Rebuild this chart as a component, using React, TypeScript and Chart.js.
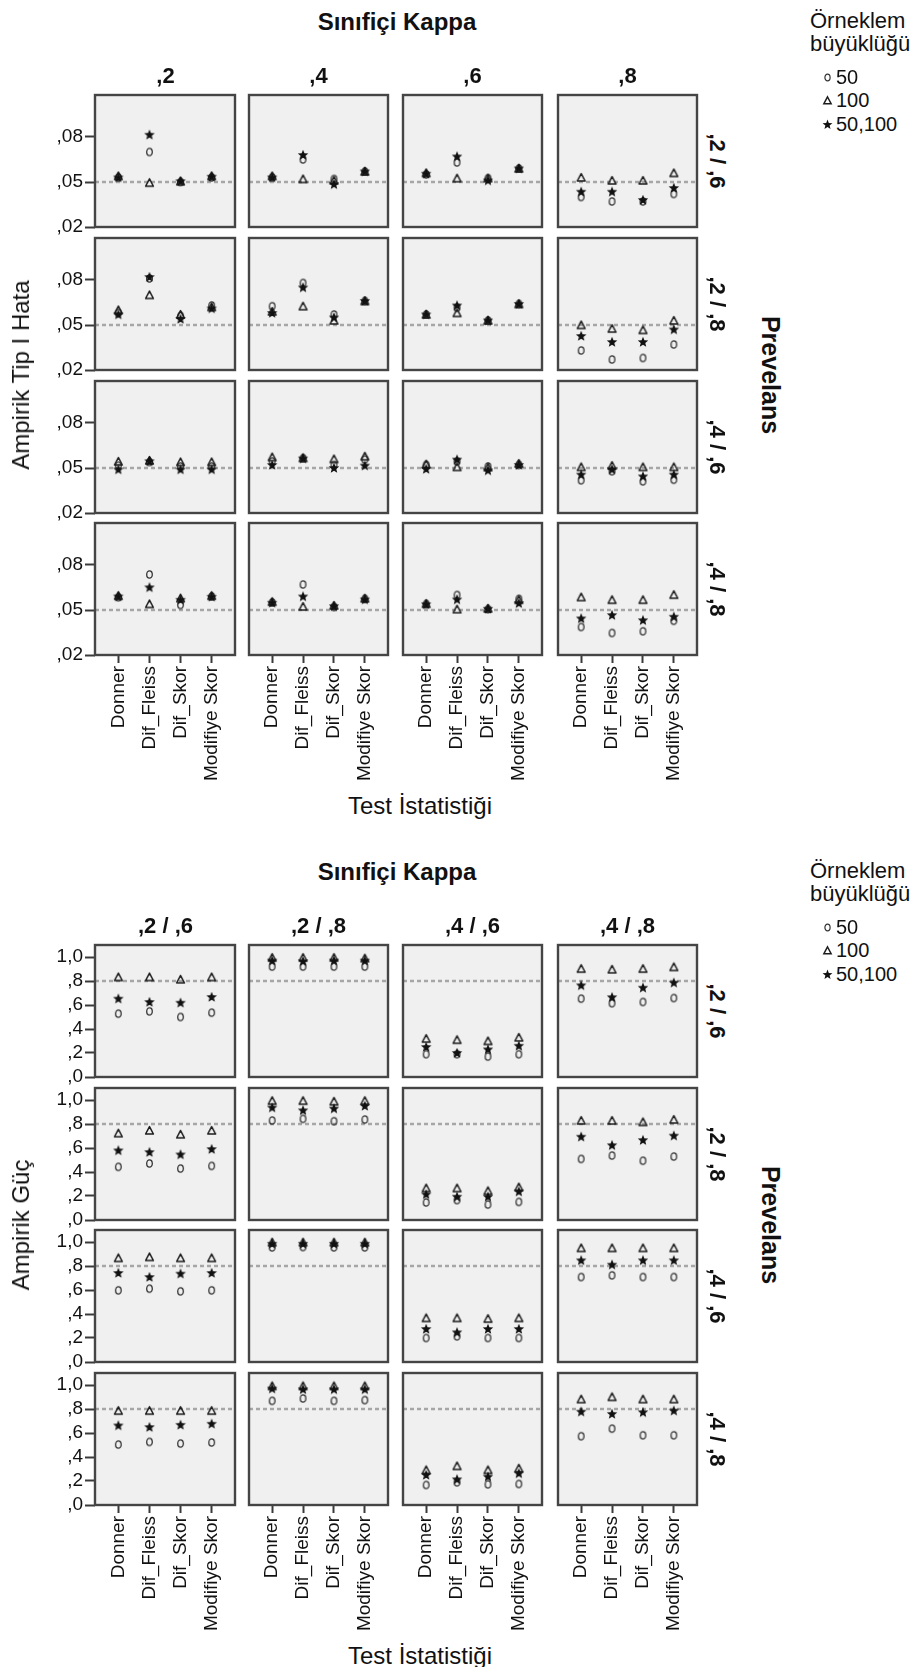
import React, { useEffect, useRef } from 'react';
import { Chart, registerables } from 'chart.js';

Chart.register(...registerables);

const FONT = '"Liberation Sans", Arial, Helvetica, sans-serif';
Chart.defaults.font.family = FONT;

// ---------- data ----------
const categories = ['Donner', 'Dif_Fleiss', 'Dif_Skor', 'Modifiye Skor'];
const sampleSizes = ['50', '100', '50,100'];
const topColLabels = [',2', ',4', ',6', ',8'];
const topRowLabels = [',2 / ,6', ',2 / ,8', ',4 / ,6', ',4 / ,8'];
const bottomColLabels = [',2 / ,6', ',2 / ,8', ',4 / ,6', ',4 / ,8'];
const bottomRowLabels = [',2 / ,6', ',2 / ,8', ',4 / ,6', ',4 / ,8'];
const topYTicks = [0.02, 0.05, 0.08];
const bottomYTicks = [0, 0.2, 0.4, 0.6, 0.8, 1.0];
const topRefValue = 0.05;
const bottomRefValue = 0.8;
const topYRange = [0.02, 0.108];
const bottomYRange = [0, 1.1];

// Ampirik Tip I Hata  [prevelans row][kappa column][test]
const typeI_n50 = [
  [[0.053, 0.070, 0.050, 0.053], [0.053, 0.065, 0.052, 0.057], [0.055, 0.063, 0.0525, 0.059], [0.040, 0.037, 0.037, 0.042]],
  [[0.058, 0.081, 0.056, 0.063], [0.0625, 0.078, 0.057, 0.066], [0.057, 0.0615, 0.053, 0.064], [0.033, 0.027, 0.028, 0.037]],
  [[0.0515, 0.054, 0.051, 0.051], [0.0544, 0.0565, 0.052, 0.0556], [0.052, 0.0544, 0.051, 0.052], [0.0418, 0.0478, 0.0411, 0.0422]],
  [[0.0585, 0.0737, 0.0534, 0.059], [0.055, 0.067, 0.052, 0.0574], [0.054, 0.060, 0.0505, 0.0574], [0.0387, 0.0347, 0.0358, 0.0428]],
];
const typeI_n100 = [
  [[0.054, 0.0495, 0.0505, 0.054], [0.054, 0.052, 0.051, 0.057], [0.056, 0.0525, 0.0525, 0.059], [0.053, 0.051, 0.051, 0.056]],
  [[0.060, 0.070, 0.057, 0.062], [0.059, 0.0625, 0.053, 0.066], [0.057, 0.058, 0.053, 0.064], [0.050, 0.0476, 0.0467, 0.053]],
  [[0.0544, 0.055, 0.054, 0.054], [0.0573, 0.0567, 0.056, 0.0578], [0.0525, 0.0507, 0.0505, 0.053], [0.0507, 0.0516, 0.0507, 0.0507]],
  [[0.0595, 0.054, 0.0579, 0.0595], [0.0555, 0.0523, 0.053, 0.0578], [0.0542, 0.0505, 0.051, 0.0568], [0.0586, 0.0568, 0.0568, 0.0602]],
];
const typeI_n50_100 = [
  [[0.053, 0.0815, 0.0505, 0.0535], [0.053, 0.068, 0.0485, 0.057], [0.0555, 0.067, 0.051, 0.059], [0.0435, 0.0435, 0.038, 0.046]],
  [[0.057, 0.082, 0.054, 0.061], [0.058, 0.075, 0.055, 0.066], [0.057, 0.063, 0.053, 0.064], [0.0427, 0.0387, 0.0387, 0.047]],
  [[0.049, 0.0545, 0.049, 0.049], [0.052, 0.0563, 0.050, 0.0516], [0.0493, 0.0556, 0.0484, 0.052], [0.0456, 0.049, 0.0444, 0.0456]],
  [[0.059, 0.0651, 0.0568, 0.0588], [0.0548, 0.059, 0.0525, 0.057], [0.0538, 0.057, 0.0508, 0.0545], [0.0444, 0.0466, 0.0432, 0.0455]],
];

// Ampirik Güç  [prevelans row][kappa column][test]
const power_n50 = [
  [[0.528, 0.547, 0.50, 0.536], [0.92, 0.92, 0.92, 0.92], [0.19, 0.19, 0.17, 0.19], [0.653, 0.615, 0.625, 0.658]],
  [[0.443, 0.471, 0.429, 0.451], [0.829, 0.843, 0.823, 0.837], [0.146, 0.166, 0.129, 0.151], [0.509, 0.537, 0.494, 0.529]],
  [[0.597, 0.611, 0.589, 0.597], [0.955, 0.958, 0.955, 0.955], [0.20, 0.214, 0.20, 0.20], [0.708, 0.722, 0.708, 0.708]],
  [[0.504, 0.526, 0.512, 0.521], [0.868, 0.888, 0.868, 0.874], [0.167, 0.189, 0.172, 0.175], [0.573, 0.636, 0.581, 0.581]],
];
const power_n100 = [
  [[0.833, 0.833, 0.814, 0.833], [0.995, 0.995, 0.995, 0.99], [0.32, 0.31, 0.30, 0.33], [0.903, 0.897, 0.903, 0.917]],
  [[0.723, 0.746, 0.714, 0.746], [0.994, 0.994, 0.989, 0.994], [0.266, 0.266, 0.243, 0.274], [0.829, 0.829, 0.817, 0.837]],
  [[0.867, 0.875, 0.867, 0.867], [0.998, 0.998, 0.998, 0.998], [0.367, 0.367, 0.361, 0.367], [0.95, 0.95, 0.95, 0.95]],
  [[0.786, 0.786, 0.786, 0.786], [0.992, 0.992, 0.992, 0.992], [0.292, 0.325, 0.292, 0.306], [0.882, 0.901, 0.882, 0.882]],
];
const power_n50_100 = [
  [[0.653, 0.625, 0.619, 0.667], [0.97, 0.965, 0.97, 0.97], [0.25, 0.20, 0.23, 0.26], [0.764, 0.665, 0.744, 0.786]],
  [[0.58, 0.566, 0.546, 0.591], [0.937, 0.914, 0.929, 0.951], [0.214, 0.194, 0.194, 0.237], [0.694, 0.623, 0.666, 0.703]],
  [[0.742, 0.708, 0.736, 0.742], [0.985, 0.985, 0.985, 0.985], [0.275, 0.247, 0.275, 0.275], [0.847, 0.811, 0.847, 0.847]],
  [[0.663, 0.649, 0.668, 0.677], [0.97, 0.964, 0.964, 0.964], [0.25, 0.214, 0.236, 0.264], [0.778, 0.759, 0.773, 0.786]],
];

// ---------- layout ----------
const COL_LEFTS = [95, 248, 402, 557];
const PW = 141;
const PH = 132;
const TOP_ROWS = [95, 238, 381, 523];
const BOTTOM_ROWS = [945, 1088, 1230, 1373];
const PADX = 4;
const PADT = 14;
const PADB = 14;
const XH = 130;
const X_MIN = -0.75;
const X_MAX = 3.75;

const fmtTop = (v: number) => v.toFixed(2).replace(/^0\./, ',');
const fmtBottom = (v: number) => v.toFixed(1).replace(/^0\./, ',').replace('.', ',');

type Markers = { circ: HTMLCanvasElement; tri: HTMLCanvasElement; star: HTMLCanvasElement };

function makeMarkers(): Markers {
  const circ = document.createElement('canvas');
  circ.width = 9; circ.height = 11;
  let c = circ.getContext('2d')!;
  c.strokeStyle = '#333'; c.lineWidth = 1.3;
  c.beginPath(); c.ellipse(4.5, 5.5, 2.8, 3.7, 0, 0, Math.PI * 2); c.stroke();

  const tri = document.createElement('canvas');
  tri.width = 11; tri.height = 11;
  c = tri.getContext('2d')!;
  c.strokeStyle = '#1c1c1c'; c.lineWidth = 1.5; c.lineJoin = 'round';
  c.beginPath(); c.moveTo(5.5, 1.6); c.lineTo(9.4, 9.0); c.lineTo(1.6, 9.0); c.closePath(); c.stroke();

  const star = document.createElement('canvas');
  star.width = 12; star.height = 12;
  c = star.getContext('2d')!;
  c.fillStyle = '#111';
  c.beginPath();
  for (let i = 0; i < 10; i++) {
    const r = i % 2 === 0 ? 5.5 : 2.4;
    const a = -Math.PI / 2 + (i * Math.PI) / 5;
    const px = 6 + r * Math.cos(a);
    const py = 6.3 + r * Math.sin(a);
    if (i === 0) c.moveTo(px, py); else c.lineTo(px, py);
  }
  c.closePath(); c.fill();
  return { circ, tri, star };
}

const panelBox = {
  id: 'panelBox',
  beforeDraw(chart: any) {
    const { ctx, chartArea: a } = chart;
    ctx.save();
    ctx.fillStyle = '#f0f0f0';
    ctx.fillRect(a.left, a.top, a.right - a.left, a.bottom - a.top);
    ctx.restore();
  },
  afterDatasetsDraw(chart: any) {
    const { ctx, chartArea: a } = chart;
    ctx.save();
    ctx.strokeStyle = '#454545';
    ctx.lineWidth = 2.4;
    ctx.strokeRect(a.left, a.top, a.right - a.left, a.bottom - a.top);
    ctx.restore();
  },
};

type Spec = { x: number; y: number; w: number; h: number; build: (m: Markers) => any };

function buildSpecs(): Spec[] {
  const grids = [
    { rows: TOP_ROWS, series: [typeI_n50, typeI_n100, typeI_n50_100], ticks: topYTicks, range: topYRange, ref: topRefValue, fmt: fmtTop },
    { rows: BOTTOM_ROWS, series: [power_n50, power_n100, power_n50_100], ticks: bottomYTicks, range: bottomYRange, ref: bottomRefValue, fmt: fmtBottom },
  ];
  const specs: Spec[] = [];
  grids.forEach((g) => {
    for (let r = 0; r < 4; r++) {
      for (let c = 0; c < 4; c++) {
        const showY = c === 0;
        const showX = r === 3;
        const L = COL_LEFTS[c];
        const T = g.rows[r];
        const x = showY ? 0 : L - PADX;
        const w = L + PW + PADX - x;
        const y = T - PADT;
        const h = PH + PADT + (showX ? XH : PADB);
        const toPts = (arr: number[]) => arr.map((v, i) => ({ x: i, y: v }));
        const n50 = g.series[0][r][c];
        const n100 = g.series[1][r][c];
        const both = g.series[2][r][c];
        const build = (m: Markers) => ({
          type: 'scatter',
          data: {
            datasets: [
              {
                type: 'line', label: 'ref',
                data: [{ x: X_MIN, y: g.ref }, { x: X_MAX, y: g.ref }],
                borderColor: '#a6a6a6', borderWidth: 2.5, borderDash: [4, 3],
                pointRadius: 0, order: 4, showLine: true, fill: false,
              },
              { label: sampleSizes[2], data: toPts(both), pointStyle: m.star, pointRadius: 4, order: 1 },
              { label: sampleSizes[1], data: toPts(n100), pointStyle: m.tri, pointRadius: 4, order: 2 },
              { label: sampleSizes[0], data: toPts(n50), pointStyle: m.circ, pointRadius: 4, order: 3 },
            ],
          },
          options: {
            animation: false,
            responsive: false,
            events: [],
            layout: { padding: { left: showY ? 0 : PADX, right: PADX, top: PADT, bottom: showX ? 0 : PADB } },
            plugins: { legend: { display: false }, tooltip: { enabled: false } },
            scales: {
              x: {
                type: 'linear', min: X_MIN, max: X_MAX, display: showX,
                afterBuildTicks: (a: any) => { a.ticks = categories.map((_, i) => ({ value: i })); },
                afterFit: (s: any) => { if (showX) s.height = XH; },
                ticks: {
                  callback: (v: any) => categories[v as number],
                  minRotation: 90, maxRotation: 90, autoSkip: false,
                  font: { size: 19, family: FONT }, color: '#111', padding: 3,
                },
                grid: { drawOnChartArea: false, drawTicks: true, tickLength: 8, tickColor: '#3a3a3a', tickWidth: 2 },
                border: { display: false },
              },
              y: {
                type: 'linear', min: g.range[0], max: g.range[1], display: showY,
                afterBuildTicks: (a: any) => { a.ticks = g.ticks.map((v) => ({ value: v })); },
                afterFit: (s: any) => { if (showY) s.width = L; },
                ticks: {
                  callback: (v: any) => g.fmt(Number(v)), autoSkip: false,
                  font: { size: 19, family: FONT }, color: '#111', padding: 2,
                },
                grid: { drawOnChartArea: false, drawTicks: true, tickLength: 10, tickColor: '#3a3a3a', tickWidth: 2 },
                border: { display: false },
              },
            },
          },
          plugins: [panelBox],
        });
        specs.push({ x, y, w, h, build });
      }
    }
  });
  return specs;
}

const SPECS = buildSpecs();

function Txt(props: { x: number; y: number; size: number; bold?: boolean; rot?: number; left?: boolean; children: any }) {
  const { x, y, size, bold, rot = 0, left, children } = props;
  return (
    <div
      style={{
        position: 'absolute', left: x, top: y,
        transform: `${left ? 'translate(0,-50%)' : 'translate(-50%,-50%)'} rotate(${rot}deg)`,
        fontSize: size, fontWeight: bold ? 700 : 400, whiteSpace: 'nowrap', lineHeight: 1,
        color: '#111', fontFamily: FONT,
      }}
    >
      {children}
    </div>
  );
}

function LegendMark({ kind }: { kind: number }) {
  if (kind === 0)
    return (
      <svg width="9" height="11" style={{ display: 'block' }}>
        <ellipse cx="4.5" cy="5.5" rx="2.6" ry="3.4" fill="none" stroke="#333" strokeWidth="1.2" />
      </svg>
    );
  if (kind === 1)
    return (
      <svg width="11" height="11" style={{ display: 'block' }}>
        <polygon points="5.5,1.8 9.2,8.8 1.8,8.8" fill="none" stroke="#1c1c1c" strokeWidth="1.4" />
      </svg>
    );
  const pts: string[] = [];
  for (let i = 0; i < 10; i++) {
    const r = i % 2 === 0 ? 5.2 : 2.2;
    const a = -Math.PI / 2 + (i * Math.PI) / 5;
    pts.push(`${(5.5 + r * Math.cos(a)).toFixed(2)},${(5.8 + r * Math.sin(a)).toFixed(2)}`);
  }
  return (
    <svg width="11" height="11" style={{ display: 'block' }}>
      <polygon points={pts.join(' ')} fill="#111" />
    </svg>
  );
}

function GridTexts({ dy, colLabels, rowLabels, rows, yTitle }: { dy: number; colLabels: string[]; rowLabels: string[]; rows: number[]; yTitle: string }) {
  const legendY = [77, 100, 124];
  return (
    <>
      <Txt x={397} y={22 + dy} size={24} bold>Sınıfiçi Kappa</Txt>
      {colLabels.map((l, i) => (
        <Txt key={'c' + i} x={COL_LEFTS[i] + PW / 2} y={76 + dy} size={22} bold>{l}</Txt>
      ))}
      {rowLabels.map((l, i) => (
        <Txt key={'r' + i} x={717} y={rows[i] + PH / 2} size={22} bold rot={90}>{l}</Txt>
      ))}
      <Txt x={770} y={375 + dy} size={25} bold rot={90}>Prevelans</Txt>
      <Txt x={21} y={375 + dy} size={24} rot={-90}>{yTitle}</Txt>
      <Txt x={420} y={806 + dy} size={24}>Test İstatistiği</Txt>
      <Txt x={810} y={21 + dy} size={22} left>Örneklem</Txt>
      <Txt x={810} y={44 + dy} size={22} left>büyüklüğü</Txt>
      {sampleSizes.map((s, i) => (
        <div
          key={'l' + i}
          style={{
            position: 'absolute', left: 822, top: legendY[i] + dy, transform: 'translate(0,-50%)',
            display: 'flex', alignItems: 'center', gap: 3, fontFamily: FONT, fontSize: 20, lineHeight: 1, color: '#111',
          }}
        >
          <div style={{ width: 11, display: 'flex', justifyContent: 'center' }}>
            <LegendMark kind={i} />
          </div>
          <span>{s}</span>
        </div>
      ))}
    </>
  );
}

export default function App() {
  const refs = useRef<(HTMLCanvasElement | null)[]>([]);

  useEffect(() => {
    const markers = makeMarkers();
    const charts = SPECS.map((s, i) => new Chart(refs.current[i] as HTMLCanvasElement, s.build(markers)));
    return () => charts.forEach((c) => c.destroy());
  }, []);

  return (
    <div style={{ position: 'absolute', left: 0, top: 0, width: 916, height: 1667, background: '#fff', overflow: 'hidden', fontFamily: FONT }}>
      {SPECS.map((s, i) => (
        <canvas
          key={i}
          ref={(el) => { refs.current[i] = el; }}
          width={s.w}
          height={s.h}
          style={{ position: 'absolute', left: s.x, top: s.y, width: s.w, height: s.h }}
        />
      ))}
      <GridTexts dy={0} colLabels={topColLabels} rowLabels={topRowLabels} rows={TOP_ROWS} yTitle="Ampirik Tip I Hata" />
      <GridTexts dy={850} colLabels={bottomColLabels} rowLabels={bottomRowLabels} rows={BOTTOM_ROWS} yTitle="Ampirik Güç" />
    </div>
  );
}
